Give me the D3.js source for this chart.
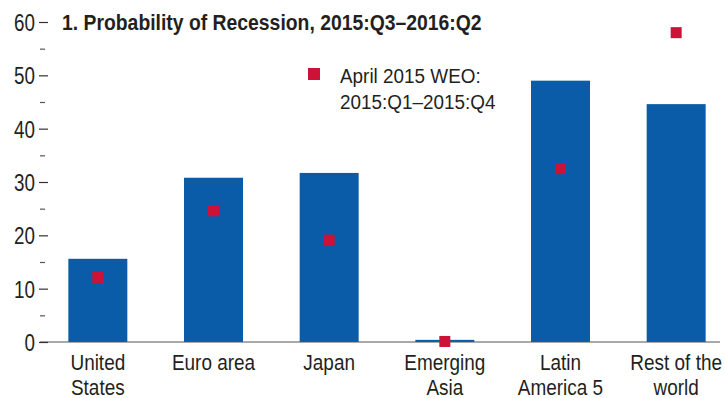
<!DOCTYPE html>
<html>
<head>
<meta charset="utf-8">
<script src="https://cdn.jsdelivr.net/npm/d3@7"></script>
<style>
  html, body { margin: 0; padding: 0; background: #fff; }
  svg { display: block; }
  text { font-family: "Liberation Sans", Arial, sans-serif; fill: #231f20; }
</style>
</head>
<body>
<svg id="chart" width="725" height="398"></svg>
<script>
// Regions shown along the x axis (two-line labels)
const categories = ["United States", "Euro area", "Japan", "Emerging Asia", "Latin America 5", "Rest of the world"];
const categoryLines = [["United", "States"], ["Euro area"], ["Japan"], ["Emerging", "Asia"], ["Latin", "America 5"], ["Rest of the", "world"]];
// Probability of recession, 2015:Q3–2016:Q2 (percent)
const currentProb = [15.6, 30.8, 31.7, 0.4, 49.0, 44.6];
// April 2015 WEO: probability for 2015:Q1–2015:Q4 (percent)
const aprilWEO = [12.1, 24.6, 19.1, 0.1, 32.5, 58.0];
// Axis ticks
const majorTicks = [0, 10, 20, 30, 40, 50, 60];
const minorTicks = [5, 15, 25, 35, 45, 55];

const titleText = "1. Probability of Recession, 2015:Q3\u20132016:Q2";
const legendLines = ["April 2015 WEO:", "2015:Q1\u20132015:Q4"];

const svg = d3.select("#chart");
const blue = "#0a5ca8";
const red = "#cc1236";

// Condensed look: regular face squeezed horizontally
function squeezed(sel, x, y, sx) {
  return sel.append("text").attr("transform", `translate(${x},${y}) scale(${sx},1)`);
}

const x = d3.scaleBand().domain(categories).range([40, 734]).paddingInner(0.49).paddingOuter(0.245);
const y = d3.scaleLinear().domain([0, 60]).range([342, 22]);

// Bars
svg.append("g").selectAll("rect")
  .data(categories)
  .join("rect")
  .attr("x", d => x(d))
  .attr("width", x.bandwidth())
  .attr("y", (d, i) => y(currentProb[i]))
  .attr("height", (d, i) => y(0) - y(currentProb[i]))
  .attr("fill", blue);

// Baseline
svg.append("line")
  .attr("x1", 40).attr("x2", 720)
  .attr("y1", y(0)).attr("y2", y(0))
  .attr("stroke", "#555").attr("stroke-width", 1.2);

// Y axis: major ticks, minor ticks
const yAxis = d3.axisLeft(y).tickValues(majorTicks).tickSize(9).tickFormat("");
const gy = svg.append("g").attr("transform", "translate(48,0)").call(yAxis);
gy.select(".domain").remove();
gy.selectAll(".tick line").attr("stroke", "#333").attr("stroke-width", 1.2);

const yMinor = d3.axisLeft(y).tickValues(minorTicks).tickSize(5).tickFormat("");
const gm = svg.append("g").attr("transform", "translate(45,0)").call(yMinor);
gm.select(".domain").remove();
gm.selectAll(".tick line").attr("stroke", "#555").attr("stroke-width", 1.2);

// Y tick labels
const gl = svg.append("g");
majorTicks.forEach(v => {
  squeezed(gl, 35, y(v) + 9, 0.8)
    .attr("text-anchor", "end")
    .attr("font-size", 23.5)
    .text(d3.format("d")(v));
});

// April 2015 WEO markers
const sq = 11;
svg.append("g").selectAll("rect")
  .data(categories)
  .join("rect")
  .attr("x", d => x(d) + x.bandwidth() / 2 - sq / 2)
  .attr("y", (d, i) => y(aprilWEO[i]) - sq / 2)
  .attr("width", sq).attr("height", sq)
  .attr("fill", red);

// Category labels
const gc = svg.append("g");
categories.forEach((d, i) => {
  const t = squeezed(gc, x(d) + x.bandwidth() / 2, 370, 0.85)
    .attr("text-anchor", "middle")
    .attr("font-size", 22.3);
  categoryLines[i].forEach((line, k) => {
    t.append("tspan").attr("x", 0).attr("dy", k === 0 ? 0 : 25).text(line);
  });
});

// Title
squeezed(svg, 62, 30, 0.88)
  .attr("font-size", 22)
  .attr("font-weight", "bold")
  .text(titleText);

// Legend
svg.append("rect").attr("x", 308).attr("y", 68).attr("width", 12).attr("height", 12).attr("fill", red);
legendLines.forEach((line, i) => {
  squeezed(svg, 340, 83 + i * 25.5, 0.9)
    .attr("font-size", 21)
    .text(line);
});
</script>
</body>
</html>
